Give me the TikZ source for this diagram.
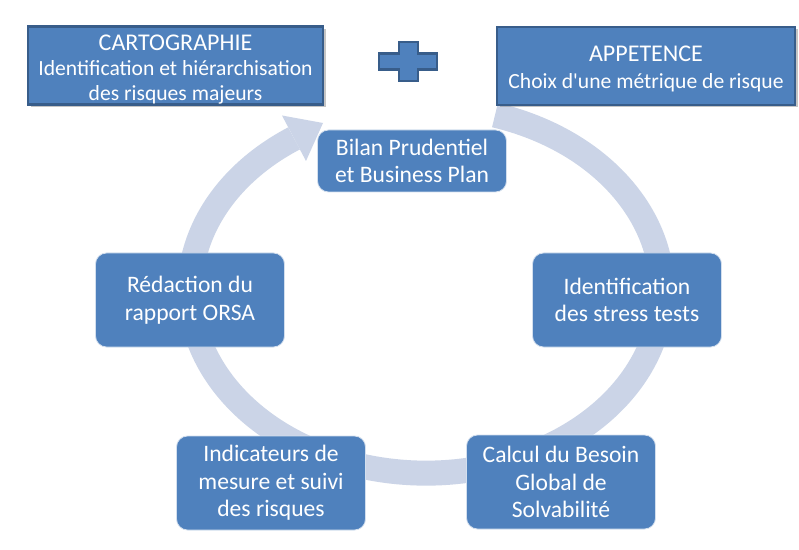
\documentclass[tikz,border=0pt]{standalone}
\usepackage{fontspec}
\setmainfont{Carlito}
\usetikzlibrary{shadows}
\definecolor{boxblue}{HTML}{4F81BD}
\definecolor{boxedge}{HTML}{385D8A}
\definecolor{ringcol}{HTML}{CBD4E7}
\newcommand{\bigline}[2]{{\fontsize{24}{25}\selectfont\rule{0pt}{#1}#2}}
\begin{document}
\begin{tikzpicture}[x=1pt,y=1pt,
  topbox/.style={fill=boxblue, draw=boxedge, line width=2.5pt, text=white, align=center,
    font=\fontsize{21.6}{25}\selectfont, inner sep=0pt,
    drop shadow={shadow xshift=2.5pt, shadow yshift=-2.5pt, fill=black!45, opacity=0.5}},
  cyclebox/.style={fill=boxblue, draw=white!75!boxblue, line width=0.8pt, rounded corners=11pt,
    text=white, align=center, font=\fontsize{23.6}{27.5}\selectfont, inner sep=0pt,
    minimum width=189pt, minimum height=94pt},
  ring/.style={draw=ringcol, line width=25pt}
]
\useasboundingbox (0,0) rectangle (799,549);
\fill[white] (0,0) rectangle (799,549);

% ring
\coordinate (ringstart) at (495.0,433.9);
\draw[ring] (ringstart) arc[start angle=73, end angle=-236, x radius=236pt, y radius=183pt] coordinate (ringend);
\coordinate (wingout) at (282.0,433.5);
\coordinate (wingin) at (306.0,388.0);
\coordinate (tip) at (323.0,426.0);
\fill[ringcol] (wingout) -- (tip) -- (wingin) -- cycle;

% top boxes
\node[topbox, minimum width=295pt, minimum height=77pt] (carto) at (175.5,483.5)
  {\bigline{24pt}{CARTOGRAPHIE}\\Identification et hiérarchisation\\des risques majeurs};
\node[topbox, minimum width=298pt, minimum height=78pt] (appet) at (646,483)
  {\bigline{21pt}{APPETENCE}\\[2pt]Choix d\textquotesingle une métrique de risque};

% plus sign
\filldraw[fill=boxblue, draw=boxedge, line width=2.5pt]
  (399,507) -- (418,507) -- (418,495.5) -- (437,495.5) -- (437,479.5) -- (418,479.5)
  -- (418,468) -- (399,468) -- (399,479.5) -- (379,479.5) -- (379,495.5) -- (399,495.5) -- cycle;

% cycle boxes
\node[cyclebox, minimum height=62pt] (bilan) at (412,388) {Bilan Prudentiel\\et Business Plan};
\node[cyclebox] (stress) at (627,249) {Identification\\des stress tests};
\node[cyclebox] (calcul) at (561,67) {Calcul du Besoin\\Global de\\Solvabilité};
\node[cyclebox] (indic) at (271,66) {Indicateurs de\\mesure et suivi\\des risques};
\node[cyclebox] (redac) at (190,249) {Rédaction du\\rapport ORSA};
\end{tikzpicture}
\end{document}
